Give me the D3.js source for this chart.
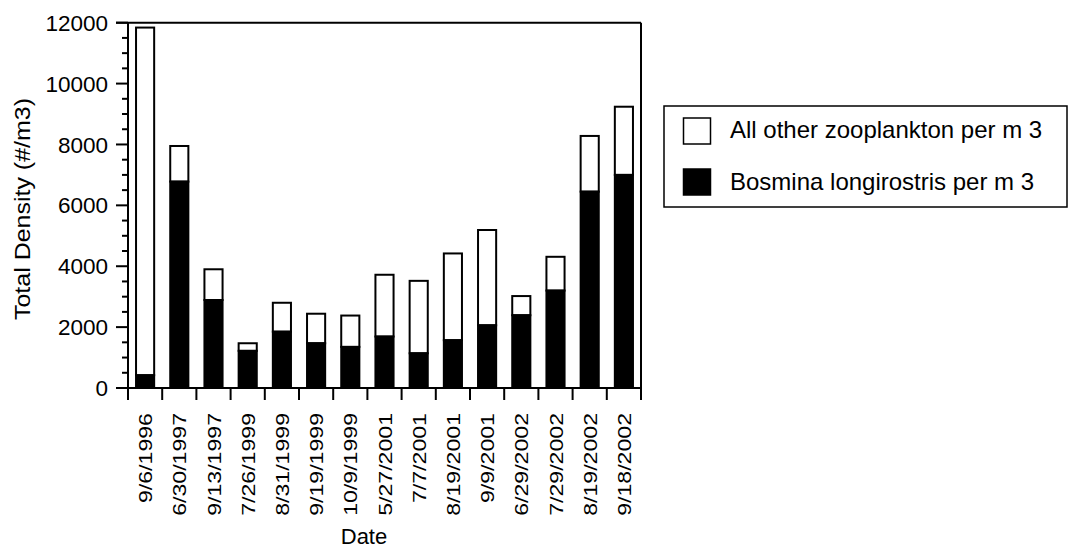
<!DOCTYPE html>
<html>
<head>
<meta charset="utf-8">
<script src="https://cdn.jsdelivr.net/npm/d3@7"></script>
<style>
  html, body { margin: 0; padding: 0; background: #fff; }
  svg { display: block; }
  text { font-family: "Liberation Sans", Arial, sans-serif; fill: #000; }
</style>
</head>
<body>
<script>
// ---- data ----
const dates = ["9/6/1996","6/30/1997","9/13/1997","7/26/1999","8/31/1999","9/19/1999","10/9/1999",
               "5/27/2001","7/7/2001","8/19/2001","9/9/2001","6/29/2002","7/29/2002","8/19/2002","9/18/2002"];
const bosmina   = [420, 6780, 2890, 1220, 1850, 1470, 1350, 1690, 1140, 1570, 2060, 2390, 3200, 6450, 7000];
const otherZoo  = [11420, 1170, 1010, 250, 950, 970, 1030, 2030, 2380, 2850, 3130, 630, 1110, 1830, 2240];
const yTicks = [0, 2000, 4000, 6000, 8000, 10000, 12000];
const seriesNames = ["All other zooplankton per m 3", "Bosmina longirostris per m 3"];
const xTitle = "Date";
const yTitle = "Total Density (#/m3)";

// ---- layout ----
const W = 1068, H = 548;
const pLeft = 128, pRight = 641, pTop = 22.7, pBottom = 388;
const svg = d3.select("body").append("svg").attr("width", W).attr("height", H);

const x = d3.scaleBand().domain(dates).range([pLeft, pRight]).paddingInner(0.47).paddingOuter(0.235);
const y = d3.scaleLinear().domain([0, 12000]).range([pBottom, pTop]);
const step = x.step();

const data = dates.map((d, i) => ({ date: d, b: bosmina[i], o: otherZoo[i] }));

// bars: white "other" on top of black bosmina
const g = svg.append("g");
g.selectAll("rect.other").data(data).join("rect")
  .attr("class", "other")
  .attr("x", d => x(d.date)).attr("width", x.bandwidth())
  .attr("y", d => y(d.b + d.o)).attr("height", d => y(d.b) - y(d.b + d.o))
  .attr("fill", "#fff").attr("stroke", "#000").attr("stroke-width", 2);
g.selectAll("rect.bos").data(data).join("rect")
  .attr("class", "bos")
  .attr("x", d => x(d.date)).attr("width", x.bandwidth())
  .attr("y", d => y(d.b)).attr("height", d => y(0) - y(d.b))
  .attr("fill", "#000").attr("stroke", "#000").attr("stroke-width", 2);

// frame + axes
const ax = svg.append("g").attr("stroke", "#000").attr("stroke-width", 2).attr("fill", "none");
const tickLen = 12, minorLen = 6;
ax.append("line").attr("x1", pLeft - tickLen).attr("x2", pRight).attr("y1", y(12000)).attr("y2", y(12000));
ax.append("line").attr("x1", pLeft - tickLen).attr("x2", pRight).attr("y1", y(0)).attr("y2", y(0));
ax.append("line").attr("x1", pLeft).attr("x2", pLeft).attr("y1", y(12000)).attr("y2", y(0) + tickLen);
ax.append("line").attr("x1", pRight).attr("x2", pRight).attr("y1", y(12000)).attr("y2", y(0) + tickLen);
ax.selectAll("line.ymaj").data(yTicks).join("line").attr("class", "ymaj")
  .attr("x1", pLeft - tickLen).attr("x2", pLeft).attr("y1", d => y(d)).attr("y2", d => y(d));
const minors = d3.range(500, 12000, 500).filter(v => v % 2000 !== 0);
ax.selectAll("line.ymin").data(minors).join("line").attr("class", "ymin")
  .attr("x1", pLeft - minorLen).attr("x2", pLeft).attr("y1", d => y(d)).attr("y2", d => y(d));
const bounds = d3.range(dates.length + 1).map(i => pLeft + i * step);
ax.selectAll("line.xt").data(bounds).join("line").attr("class", "xt")
  .attr("x1", d => d).attr("x2", d => d).attr("y1", y(0)).attr("y2", y(0) + tickLen);

// y tick labels
svg.selectAll("text.yl").data(yTicks).join("text").attr("class", "yl")
  .attr("x", 108).attr("y", d => y(d)).attr("dy", "0.36em")
  .attr("text-anchor", "end").attr("font-size", 22.5)
  .text(d => d);

// x tick labels (rotated)
svg.selectAll("text.xl").data(dates).join("text").attr("class", "xl")
  .attr("transform", d => `translate(${x(d) + x.bandwidth() / 2 + 7},413) rotate(-90) scale(1.25,1)`)
  .attr("text-anchor", "end").attr("font-size", 18.5)
  .text(d => d);

// axis titles
svg.append("text").attr("x", 364).attr("y", 544).attr("text-anchor", "middle")
  .attr("font-size", 22).text(xTitle);
svg.append("text").attr("transform", `translate(29.5,209) rotate(-90)`)
  .attr("text-anchor", "middle").attr("font-size", 22)
  .attr("textLength", 222).attr("lengthAdjust", "spacingAndGlyphs")
  .text(yTitle);

// legend
const lg = svg.append("g");
lg.append("rect").attr("x", 664).attr("y", 106).attr("width", 403).attr("height", 101)
  .attr("fill", "#fff").attr("stroke", "#000").attr("stroke-width", 1.5);
const legendItems = [
  { name: seriesNames[0], fill: "#fff", sy: 118, ty: 138 },
  { name: seriesNames[1], fill: "#000", sy: 169, ty: 190 }
];
lg.selectAll("rect.sw").data(legendItems).join("rect").attr("class", "sw")
  .attr("x", 683.5).attr("y", d => d.sy).attr("width", 27).attr("height", 26)
  .attr("fill", d => d.fill).attr("stroke", "#000").attr("stroke-width", 1.5);
lg.selectAll("text.lt").data(legendItems).join("text").attr("class", "lt")
  .attr("x", 730).attr("y", d => d.ty).attr("font-size", 24)
  .text(d => d.name);
</script>
</body>
</html>
